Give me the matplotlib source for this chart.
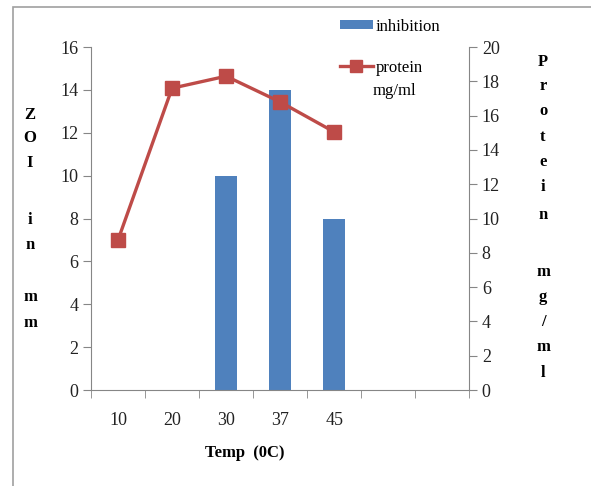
import matplotlib
matplotlib.use('Agg')
from matplotlib import pyplot as plt
from matplotlib.patches import Rectangle

categories = ['10', '20', '30', '37', '45', '', '']
inhibition = [0, 0, 10, 14, 8]
protein = [8.75, 17.6, 18.3, 16.8, 15.05]

bar_color = '#4F81BD'
line_color = '#BE4B48'
axis_color = '#868686'
serif = 'Liberation Serif'

fig = plt.figure(figsize=(5.91, 4.86), dpi=100)
ax = fig.add_axes([0.154, 0.1975, 0.640, 0.7057])
ax2 = ax.twinx()

# bars (left axis)
xs = range(len(inhibition))
ax.bar(xs, inhibition, width=0.4, color=bar_color, label='inhibition', zorder=2)
ax.set_ylim(0, 16)
ax.set_yticks(range(0, 17, 2))
ax.set_xlim(-0.5, len(categories) - 0.5)
ax.set_xticks(range(len(categories)))
ax.set_xticklabels(categories)
ax.set_xticks([i - 0.5 for i in range(len(categories) + 1)], minor=True)
ax.tick_params(axis='x', which='major', length=0, pad=16)
ax.tick_params(axis='x', which='minor', length=6, color=axis_color, direction='out')

# line (right axis)
ax2.plot(range(len(protein)), protein, color=line_color, lw=2.4, marker='s',
         ms=10, label='protein', zorder=3)
ax2.set_ylim(0, 20)
ax2.set_yticks(range(0, 21, 2))

for a in (ax, ax2):
    for s in a.spines.values():
        s.set_visible(False)
    a.tick_params(axis='y', length=6, color=axis_color, labelsize=13,
                  labelcolor='#222222', pad=3)
    for lab in a.get_yticklabels() + a.get_xticklabels():
        lab.set_fontfamily(serif)
ax.tick_params(axis='x', labelsize=13, labelcolor='#222222')
ax.spines['left'].set_visible(True)
ax.spines['left'].set_color(axis_color)
ax.spines['bottom'].set_visible(True)
ax.spines['bottom'].set_color(axis_color)
ax2.spines['right'].set_visible(True)
ax2.spines['right'].set_color(axis_color)

# axis titles drawn as stacked letters
left_letters = [('Z', 115), ('O', 138), ('I', 163), ('i', 220), ('n', 245),
                ('m', 297), ('m', 323)]
for ch, py in left_letters:
    fig.text(30 / 591, 1 - py / 486, ch, fontsize=12, fontweight='bold',
             family=serif, ha='center', va='center')
right_letters = [('P', 62), ('r', 86), ('o', 111), ('t', 137), ('e', 162),
                 ('i', 187), ('n', 215), ('m', 272), ('g', 297), ('/', 322),
                 ('m', 347), ('l', 373)]
for ch, py in right_letters:
    fig.text(543 / 591, 1 - py / 486, ch, fontsize=12, fontweight='bold',
             family=serif, ha='center', va='center')

fig.text(245 / 591, 1 - 453 / 486, 'Temp  (0C)', fontsize=12, fontweight='bold',
         family=serif, ha='center', va='center')

# legend
h1, l1 = ax.get_legend_handles_labels()
h2, l2 = ax2.get_legend_handles_labels()
fig.legend(h1 + h2, l1 + l2, loc='upper left',
           bbox_to_anchor=(333 / 591, 1 - 12 / 486), frameon=False,
           prop={'family': serif, 'size': 12}, handlelength=2.0,
           handleheight=0.5, handletextpad=0.15, labelspacing=1.5,
           borderaxespad=0, markerscale=0.8)
fig.text(373 / 591, 1 - 91 / 486, 'mg/ml', fontsize=12, family=serif,
         ha='left', va='center')

# outer chart frame
fig.patches.append(Rectangle((13 / 591, -0.05), 1.0, 1 - 7 / 486 + 0.05,
                             transform=fig.transFigure, fill=False,
                             edgecolor='#A0A0A0', lw=1.2))

plt.savefig('out.png', dpi=100)
